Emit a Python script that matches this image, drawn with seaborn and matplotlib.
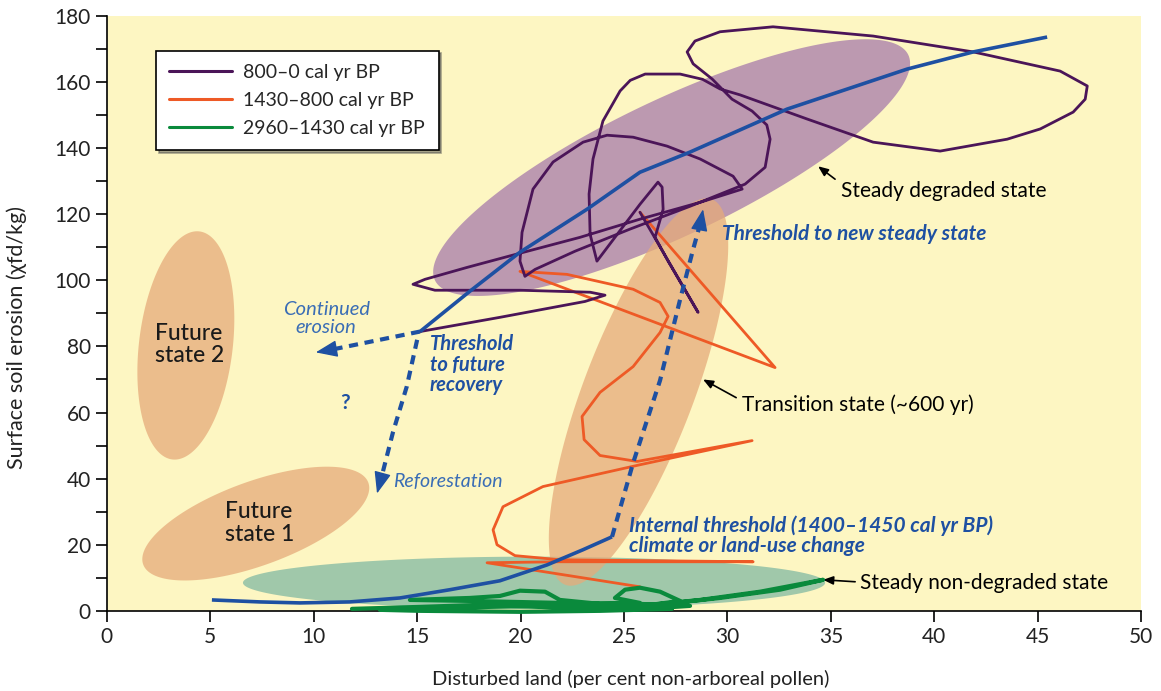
import numpy as np
import seaborn as sns
import matplotlib.pyplot as plt

# values: x = disturbed land (% NAP), y = surface soil erosion
# 800-0 cal yr BP
purple_x = [25.77, 28.58, 27.13, 26.5, 26.89, 26.84, 26.64, 25.77, 24.56, 23.69,
            23.36, 23.31, 23.5, 23.98, 24.81, 25.3, 26.02, 27.71, 28.8, 29.64, 30.61, 33.85,
            37.04, 40.28, 43.52, 45.12, 46.71, 47.29, 47.39, 46.08, 41.88, 37.04,
            32.2, 29.64, 28.43, 28.05, 28.34, 29.26, 30.22, 31.19, 31.9, 32.06, 31.82,
            30.85, 28.19, 25.29, 22.63, 20.7, 20.21, 19.97, 20.07, 20.6, 21.57,
            23.02, 24.18, 25.44, 27.08, 28.68, 30.27, 30.71, 28.68, 25.77, 22.87,
            19.97, 17.41, 15.38, 14.8, 15.86, 19.97, 23.36, 24.08, 23.11, 19.0, 15.14]
purple_y = [120.6, 90.3, 105.8, 113.0, 121.5, 128.2, 129.7, 123.0, 113.0, 105.8,
            113.9, 126.1, 136.7, 148.2, 157.3, 160.5, 162.4, 162.4, 160.8, 157.9, 156.1, 148.8,
            141.8, 139.1, 142.7, 145.8, 150.9, 154.8, 158.8, 163.3, 169.1, 173.9,
            176.7, 175.2, 172.4, 169.1, 165.5, 160.9, 154.8, 151.2, 147.0, 142.7, 134.2,
            129.1, 122.4, 115.5, 108.8, 103.3, 101.2, 105.8, 114.5, 127.6, 135.8,
            141.8, 143.9, 143.3, 140.6, 136.7, 131.5, 127.6, 123.6, 118.5, 113.0,
            108.2, 103.9, 100.3, 98.8, 97.0, 97.0, 96.4, 95.5, 93.6, 88.8, 84.5]

# 1430-800 cal yr BP
orange_x = [25.77, 18.38, 21.9, 31.24, 21.9, 19.73, 18.86, 18.67, 19.15, 21.08,
            25.77, 31.19, 25.63, 23.84, 23.07, 22.97, 23.84, 25.44, 26.74, 27.13,
            26.74, 25.44, 22.24, 19.97, 32.3, 25.77]
orange_y = [7.27, 14.55, 14.85, 14.85, 15.45, 16.7, 20.0, 24.5, 31.5, 37.6,
            44.2, 51.5, 45.2, 47.0, 51.8, 58.8, 66.1, 73.9, 84.2, 89.1,
            93.3, 97.3, 101.8, 102.7, 73.6, 120.6]

# 2960-1430 cal yr BP
green_x = [11.85, 15.14, 18.04, 20.94, 23.84, 26.74, 28.19, 25.77, 21.9, 17.55,
           14.65, 17.55, 19.0, 19.97, 21.18, 21.9, 23.84, 25.77, 24.56, 25.05,
           25.77, 26.74, 27.71, 26.26, 28.68, 31.58, 34.62, 32.54, 29.64, 26.98,
           23.84, 20.45, 16.59, 13.2, 15.14, 19.97, 23.84, 27.32]
green_y = [0.6, 1.2, 1.8, 1.2, 0.6, 0.9, 1.5, 2.1, 2.4, 3.0,
           3.3, 3.9, 4.5, 6.1, 5.8, 3.3, 2.1, 2.4, 3.9, 6.4,
           7.0, 5.8, 3.0, 1.8, 3.3, 5.8, 9.4, 6.4, 3.9, 2.1,
           1.2, 1.5, 0.9, 0.3, 0.0, -0.3, 0.0, 0.6]

# schematic trajectory (blue)
early_x = [5.08, 7.4, 9.33, 11.75, 14.17, 16.59, 19.0, 21.28, 23.02, 24.42]
early_y = [3.3, 2.7, 2.4, 2.7, 3.9, 6.4, 9.1, 13.9, 18.5, 22.4]
jump_x = [24.42, 25.44, 26.74, 27.71, 28.34, 28.7]
jump_y = [22.4, 44.8, 69.7, 94.2, 109.4, 117.5]
late_x = [15.14, 17.55, 19.97, 23.21, 25.77, 28.19, 31.58, 32.88, 38.68, 41.88, 45.45]
late_y = [84.5, 96.7, 108.5, 121.5, 132.7, 138.8, 148.2, 151.8, 163.9, 169.1, 173.6]
erosion_x = [15.14, 11.0]
erosion_y = [84.5, 79.2]
reforest_x = [15.0, 14.5, 13.83, 13.3]
reforest_y = [82.0, 67.9, 54.0, 41.0]

# state zones: centre, two conjugate half-axes (data units)
zones = {
    "green": ((20.65, 8.5), (14.07, 0.0), (0.0, 7.9)),
    "degraded": ((27.3, 134.1), (11.44, 34.09), (1.41, -18.6)),
    "transition": ((25.7, 66.2), (3.55, 58.3), (2.49, -5.94)),
    "future2": ((3.82, 80.3), (0.653, 34.5), (2.25, -1.67)),
    "future1": ((7.2, 26.4), (5.44, 12.4), (0.70, -11.94)),
}

PURPLE = "#4B1558"
ORANGE = "#EE5A26"
GREEN = "#0A8A3C"
BLUE = "#1E50A2"
LBLUE = "#3A6DB5"

sns.set_theme(style="ticks")
plt.rcParams["font.family"] = ["Lato", "DejaVu Sans"]

fig, ax = plt.subplots(figsize=(11.61, 6.91), dpi=100)
fig.subplots_adjust(left=0.092, right=0.983, top=0.977, bottom=0.116)
ax.set_facecolor("#FDF6C2")

t = np.linspace(0, 2 * np.pi, 240)


def zone(name, color, alpha=1.0):
    c, a, b = zones[name]
    ax.fill(c[0] + a[0] * np.cos(t) + b[0] * np.sin(t),
            c[1] + a[1] * np.cos(t) + b[1] * np.sin(t),
            color=color, alpha=alpha, lw=0, zorder=1)


zone("green", "#A0C8AA")
zone("degraded", "#BC99B0")
zone("transition", "#E6AB7A", 0.75)
zone("future2", "#E6AB7A", 0.75)
zone("future1", "#E6AB7A", 0.75)

sns.lineplot(x=purple_x, y=purple_y, sort=False, estimator=None, color=PURPLE,
             lw=2, label="800–0 cal yr BP", ax=ax, zorder=5)
sns.lineplot(x=orange_x, y=orange_y, sort=False, estimator=None, color=ORANGE,
             lw=2, label="1430–800 cal yr BP", ax=ax, zorder=4)
sns.lineplot(x=green_x, y=green_y, sort=False, estimator=None, color=GREEN,
             lw=3, label="2960–1430 cal yr BP", ax=ax, zorder=4, clip_on=False)

ax.plot(early_x, early_y, color=BLUE, lw=2.6, zorder=6, solid_capstyle="butt")
ax.plot(late_x, late_y, color=BLUE, lw=2.6, zorder=6, solid_capstyle="butt")
dash = (0, (2.2, 1.6))
for xs, ys in [(jump_x, jump_y), (erosion_x, erosion_y), (reforest_x, reforest_y)]:
    ax.plot(xs, ys, color=BLUE, lw=3, ls=dash, zorder=6)
head = dict(arrowstyle="-|>,head_length=0.9,head_width=0.35", color=BLUE, lw=1,
            shrinkA=0, shrinkB=0, mutation_scale=15)
ax.annotate("", xy=(28.82, 121.5), xytext=(jump_x[-1], jump_y[-1]), arrowprops=head, zorder=7)
ax.annotate("", xy=(10.1, 78.2), xytext=(erosion_x[-1], erosion_y[-1]), arrowprops=head, zorder=7)
ax.annotate("", xy=(13.06, 35.5), xytext=(reforest_x[-1], reforest_y[-1]), arrowprops=head, zorder=7)

# black pointers to the zones
pointer = dict(arrowstyle="-|>,head_length=0.6,head_width=0.25", color="black", lw=1.2,
               shrinkA=0, shrinkB=0, mutation_scale=10)
ax.annotate("", xy=(34.38, 134.5), xytext=(35.2, 130.6), arrowprops=pointer)
ax.annotate("", xy=(28.82, 70.0), xytext=(30.42, 64.5), arrowprops=pointer)
ax.annotate("", xy=(34.62, 9.4), xytext=(36.17, 8.8), arrowprops=pointer)

ax.text(35.5, 127, "Steady degraded state", fontsize=15, color="black", va="center")
ax.text(30.7, 62.4, "Transition state (~600 yr)", fontsize=15, color="black", va="center")
ax.text(36.4, 8.5, "Steady non-degraded state", fontsize=15, color="black", va="center")
ax.text(2.32, 80.6, "Future\nstate 2", fontsize=16.5, color="#1a1a1a", va="center",
        weight="medium", linespacing=1.1)
ax.text(5.7, 26.5, "Future\nstate 1", fontsize=16.5, color="#1a1a1a", va="center",
        weight="medium", linespacing=1.1)

ax.text(10.6, 88.5, "Continued\nerosion", fontsize=14.5, color=LBLUE, style="italic",
        ha="center", va="center", linespacing=1.05)
ax.text(11.5, 63, "?", fontsize=15, color=BLUE, weight="bold", ha="center", va="center")
ax.text(15.62, 74.5, "Threshold\nto future\nrecovery", fontsize=14.5, color=BLUE,
        style="italic", weight="bold", va="center", linespacing=1.05)
ax.text(13.83, 39.1, "Reforestation", fontsize=14, color=LBLUE, style="italic", va="center")
ax.text(29.74, 113.9, "Threshold to new steady state", fontsize=15, color=BLUE,
        style="italic", weight="bold", va="center")
ax.text(25.24, 22.6, "Internal threshold (1400–1450 cal yr BP)\nclimate or land-use change",
        fontsize=15, color=BLUE, style="italic", weight="bold", va="center",
        linespacing=1.0)

ax.set_xlim(0, 50)
ax.set_ylim(0, 180)
ax.set_xticks(range(0, 51, 5))
ax.set_yticks(range(0, 181, 20))
ax.set_yticks(range(10, 180, 20), minor=True)
ax.tick_params(which="both", direction="out", length=8, width=1.2, color="black",
               labelsize=15, labelcolor="#222222")
for lab in ax.get_xticklabels() + ax.get_yticklabels():
    lab.set_family(["Liberation Sans Narrow", "Lato", "DejaVu Sans"])
sns.despine(ax=ax)
for side in ["left", "bottom"]:
    ax.spines[side].set_color("black")
    ax.spines[side].set_linewidth(1.2)

ax.set_xlabel("Disturbed land (per cent non-arboreal pollen)", fontsize=14.5, color="#222222")
ax.set_ylabel("Surface soil erosion (χfd/kg)", fontsize=15.5, color="#222222")
ax.xaxis.set_label_coords(0.506, -0.1)
ax.yaxis.set_label_coords(-0.077, 0.46)

leg = ax.legend(loc="upper left", bbox_to_anchor=(0.038, 0.958), frameon=True,
                fancybox=False, shadow=True, edgecolor="black", framealpha=1,
                fontsize=14, handlelength=3.2, borderpad=0.7, labelspacing=0.55,
                handletextpad=0.6)
leg.get_frame().set_linewidth(1.2)
for h in leg.get_lines():
    h.set_linewidth(2.2)
leg.set_zorder(10)

fig.savefig("out.png", dpi=100)
